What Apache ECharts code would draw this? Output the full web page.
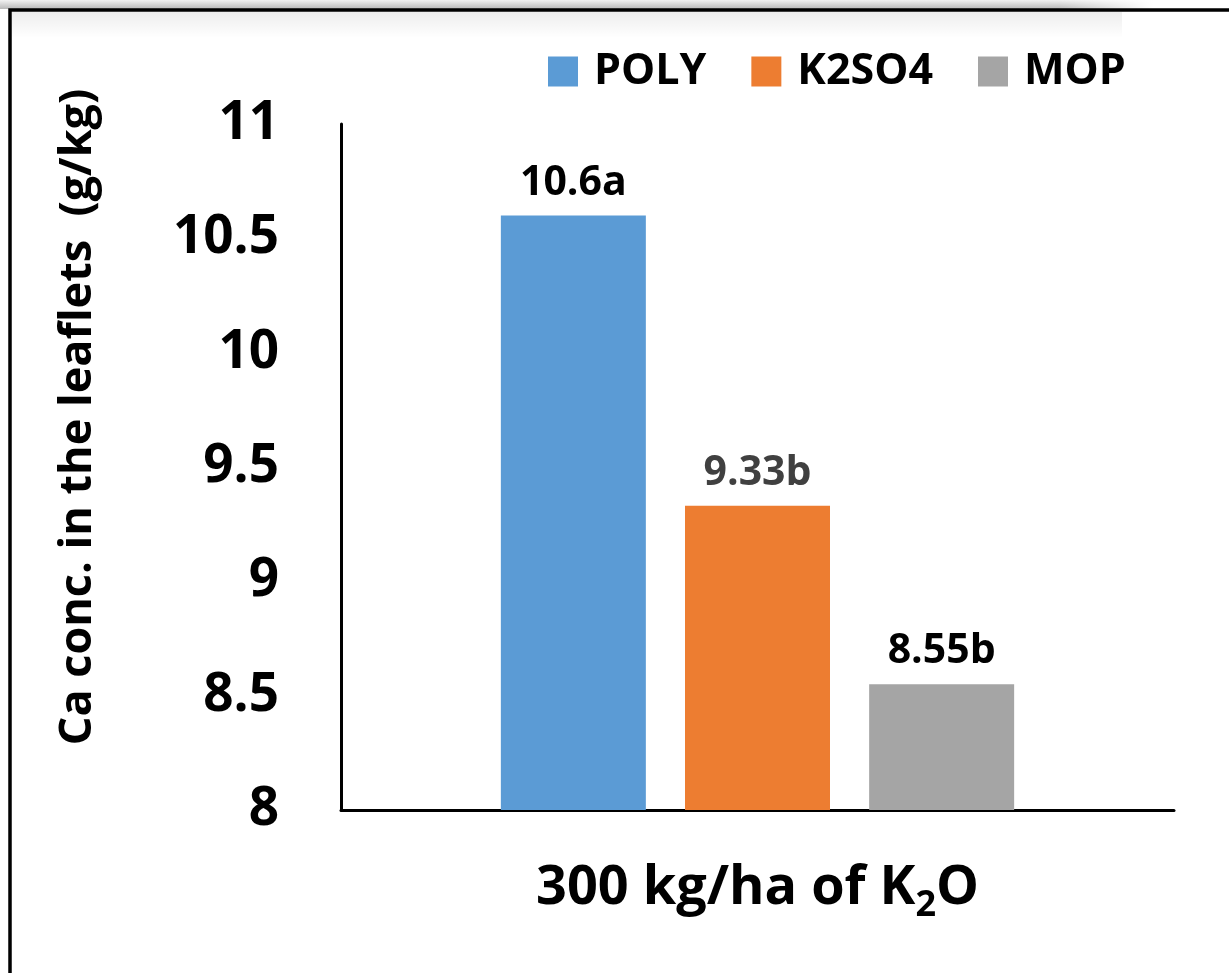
<!DOCTYPE html>
<html>
<head>
<meta charset="utf-8">
<script src="https://cdn.jsdelivr.net/npm/echarts@6/dist/echarts.min.js"></script>
<style>
html,body{margin:0;padding:0;background:#fff;}
#chart{width:1229px;height:973px;}
</style>
</head>
<body>
<div id="chart"></div>
<script>
const categories = ['300 kg/ha of K{sub|2}O'];
const seriesNames = ['POLY', 'K2SO4', 'MOP'];
const seriesValues = [[10.6], [9.33], [8.55]];
const valueLabels = ['10.6a', '9.33b', '8.55b'];
const yTicks = [8, 8.5, 9, 9.5, 10, 10.5, 11];
const yAxisTitle = 'Ca conc. in the leaflets  (g/kg)';

const colors = ['#5B9BD5', '#ED7D31', '#A5A5A5'];
const labelColors = ['#000000', '#404040', '#000000'];
const FONT = '"Open Sans", "Noto Sans", sans-serif';

const chart = echarts.init(document.getElementById('chart'));

const series = seriesNames.map((name, i) => ({
  name: name,
  type: 'bar',
  data: seriesValues[i],
  barWidth: 145,
  barGap: '27%',
  itemStyle: { color: colors[i] },
  label: {
    show: true,
    position: 'top',
    distance: 12,
    formatter: () => valueLabels[i],
    color: labelColors[i],
    fontFamily: FONT,
    fontWeight: 'bold',
    fontSize: 41
  }
}));

chart.setOption({
  animation: false,
  backgroundColor: '#ffffff',
  textStyle: { fontFamily: FONT },
  graphic: [
    { type: 'rect', silent: true, z: -10,
      shape: { x: 0, y: 0, width: 1229, height: 9 },
      style: { fill: new echarts.graphic.LinearGradient(0, 0, 0, 1, [
        { offset: 0, color: '#f2f2f2' }, { offset: 1, color: '#b8b8b8' }]) } },
    { type: 'rect', silent: true, z: -9,
      shape: { x: 1060, y: 0, width: 169, height: 9 },
      style: { fill: new echarts.graphic.LinearGradient(0, 0, 1, 0, [
        { offset: 0, color: 'rgba(255,255,255,0)' }, { offset: 0.55, color: 'rgba(255,255,255,1)' }, { offset: 1, color: 'rgba(255,255,255,1)' }]) } },
    { type: 'rect', silent: true, z: -9,
      shape: { x: 12, y: 12, width: 1110, height: 26 },
      style: { fill: new echarts.graphic.LinearGradient(0, 0, 0, 1, [
        { offset: 0, color: 'rgba(0,0,0,0.07)' }, { offset: 1, color: 'rgba(0,0,0,0)' }]) } },
    { type: 'rect', silent: true, z: 100,
      shape: { x: 10, y: 10, width: 1400, height: 1200 },
      style: { fill: 'none', stroke: '#000', lineWidth: 3.5 } }
  ],
  legend: {
    data: seriesNames,
    left: 543,
    top: 45,
    itemWidth: 30,
    itemHeight: 30,
    itemGap: 45,
    icon: 'rect',
    textStyle: {
      fontFamily: FONT, fontWeight: 'bold', fontSize: 43, color: '#000',
      padding: [0, 0, 0, 11]
    }
  },
  grid: { left: 341, right: 55, top: 124, bottom: 163, containLabel: false },
  xAxis: {
    type: 'category',
    data: categories,
    axisLine: { show: true, lineStyle: { color: '#000', width: 3 } },
    axisTick: { show: false },
    axisLabel: {
      margin: 44,
      color: '#000',
      formatter: v => v,
      fontFamily: FONT, fontWeight: 'bold', fontSize: 54,
      rich: {
        sub: { fontFamily: FONT, fontWeight: 'bold', fontSize: 36, padding: [34, 0, 0, 0], color: '#000' }
      }
    }
  },
  yAxis: {
    type: 'value',
    min: yTicks[0],
    max: yTicks[yTicks.length - 1],
    interval: 0.5,
    name: yAxisTitle,
    nameLocation: 'middle',
    nameGap: 240,
    nameTextStyle: {
      fontFamily: FONT, fontWeight: 'bold', fontSize: 45, color: '#000',
      padding: [0, 0, 0, 100]
    },
    axisLine: { show: true, lineStyle: { color: '#000', width: 3 } },
    axisTick: { show: false },
    splitLine: { show: false },
    axisLabel: {
      margin: 62,
      color: '#000',
      fontFamily: FONT, fontWeight: 'bold', fontSize: 53,
      formatter: v => String(v)
    }
  },
  series: series
});
</script>
</body>
</html>
